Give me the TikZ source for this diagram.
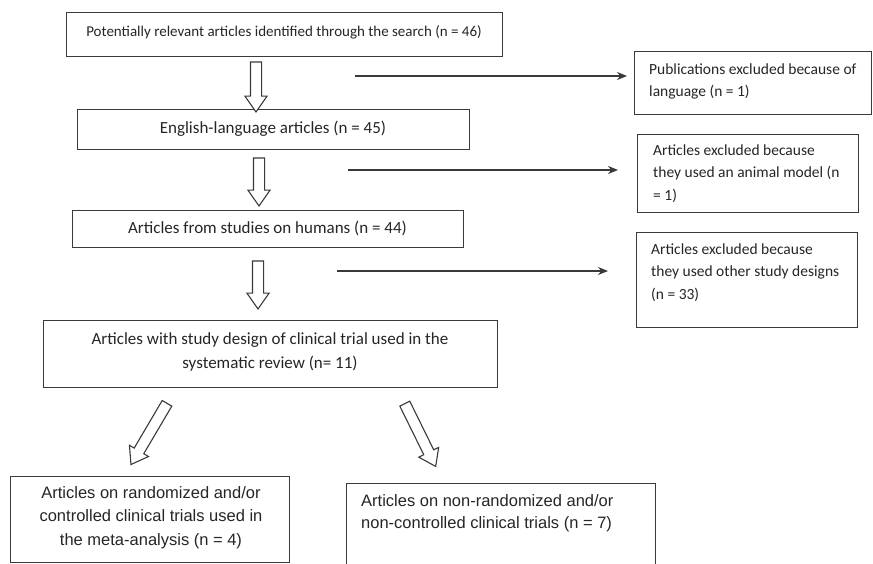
\documentclass[tikz,border=0pt]{standalone}
\usepackage{fontspec}
\setmainfont{Carlito}
\newfontfamily\arialfont{Liberation Sans}
\usetikzlibrary{shapes.arrows,arrows.meta}
\definecolor{linec}{HTML}{3A3A3A}
\definecolor{textc}{HTML}{262626}
\begin{document}
\begin{tikzpicture}[x=1pt,y=-1pt,
  box/.style={draw=linec, line width=1.2pt, rectangle, inner sep=0pt, anchor=north west},
  txt/.style={text=textc, inner sep=0pt, align=center},
  ltxt/.style={text=textc, inner sep=0pt, align=left, anchor=west},
  blk/.style={single arrow, draw=linec, line width=1.1pt, fill=white,
    inner xsep=0pt, inner ysep=5pt, text height=0pt, text depth=0pt,
    single arrow head extend=5.5pt, single arrow tip angle=70},
  conn/.style={draw=linec, line width=1.5pt, -{Stealth[length=10pt,width=8pt]}}]
\useasboundingbox (0,0) rectangle (873,564);
\clip (0,0) rectangle (873,564);
\fill[white] (0,0) rectangle (873,564);

% main column boxes
\node[box, minimum width=436pt, minimum height=44pt] (top) at (66,12) {};
\node[txt, font=\fontsize{15}{20}\selectfont] (toptext) at (284,32) {Potentially relevant articles identified through the search (n = 46)};

\node[box, minimum width=392pt, minimum height=40pt] (eng) at (77,109) {};
\node[txt, font=\fontsize{17}{22}\selectfont] (engtext) at (273,129) {English-language articles (n = 45)};

\node[box, minimum width=391pt, minimum height=37pt] (hum) at (72,210) {};
\node[txt, font=\fontsize{17}{22}\selectfont] (humtext) at (267.5,228.5) {Articles from studies on humans (n = 44)};

\node[box, minimum width=454pt, minimum height=67pt] (cli) at (43,320) {};
\node[txt, font=\fontsize{17}{24}\selectfont] (clitext) at (270,352) {Articles with study design of clinical trial used in the\\systematic review (n= 11)};

\node[box, minimum width=279pt, minimum height=86pt] (bl) at (10,476) {};
\node[txt, font=\arialfont\fontsize{16.5}{23.5}\selectfont] (bltext) at (151,517.5) {Articles on randomized and/or\\controlled clinical trials used in\\the meta-analysis (n = 4)};

\node[box, minimum width=309pt, minimum height=120pt] (br) at (346,483) {};
\node[ltxt, font=\arialfont\fontsize{16.5}{22}\selectfont] (brtext) at (361,513) {Articles on non-randomized and/or\\non-controlled clinical trials (n = 7)};

% exclusion boxes
\node[box, minimum width=237pt, minimum height=63pt] (r1) at (634,51) {};
\node[ltxt, font=\fontsize{15.5}{22}\selectfont] (r1text) at (649,81) {Publications excluded because of\\language (n = 1)};

\node[box, minimum width=221pt, minimum height=78pt] (r2) at (637,134) {};
\node[ltxt, font=\fontsize{15.5}{22.5}\selectfont] (r2text) at (653,173.5) {Articles excluded because\\they used an animal model (n\\= 1)};

\node[box, minimum width=221pt, minimum height=95pt] (r3) at (636,232) {};
\node[ltxt, font=\fontsize{15.5}{22.5}\selectfont] (r3text) at (651,272.5) {Articles excluded because\\they used other study designs\\(n = 33)};

% block arrows
\node[blk, minimum height=50pt, rotate=-90] (a1) at (256,83) {};
\node[blk, minimum height=48pt, rotate=-90] (a2) at (259,178) {};
\node[blk, minimum height=48pt, rotate=-90] (a3) at (258,281) {};
\node[blk, minimum height=71pt, rotate=-120.5] (a4) at (151,430.5) {};
\node[blk, minimum height=70pt, rotate=-63.8] (a5) at (418.5,431.5) {};

% exclusion connectors
\coordinate (h1s) at (355,76);
\coordinate (h1e) at (627,76);
\coordinate (h2s) at (348,170);
\coordinate (h2e) at (618,170);
\coordinate (h3s) at (337,271);
\coordinate (h3e) at (608,271);
\draw[conn] (h1s) -- (h1e);
\draw[conn] (h2s) -- (h2e);
\draw[conn] (h3s) -- (h3e);
\end{tikzpicture}
\end{document}
